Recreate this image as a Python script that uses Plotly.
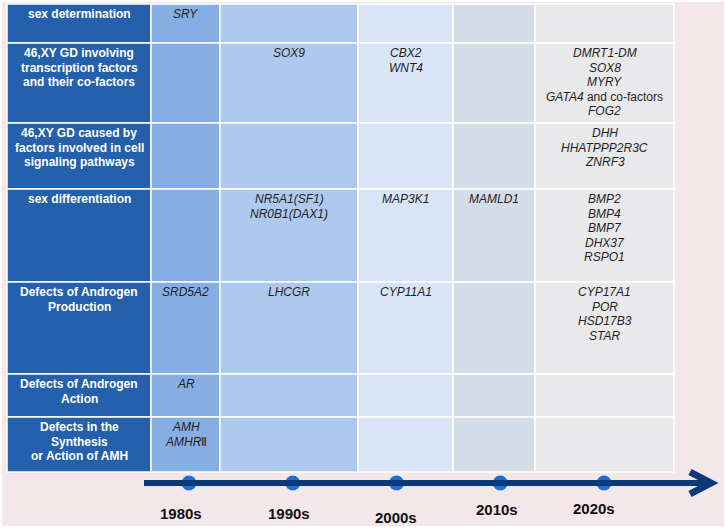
import plotly.graph_objects as go

# chart data
row_labels = [
    ["sex determination"],
    ["46,XY GD involving", "transcription factors", "and their co-factors"],
    ["46,XY GD caused by", "factors involved in cell", "signaling pathways"],
    ["sex differentiation"],
    ["Defects of Androgen", "Production"],
    ["Defects of Androgen", "Action"],
    ["Defects in the", "Synthesis", "or Action of AMH"],
]
decades = ["1980s", "1990s", "2000s", "2010s", "2020s"]
decade_years = [1980, 1990, 2000, 2010, 2020]

# genes[row][decade] -> lines of text
genes = [
    [["SRY"], [], [], [], []],
    [[], ["SOX9"], ["CBX2", "WNT4"], [],
     ["DMRT1-DM", "SOX8", "MYRY", "<i>GATA4</i> and co-factors", "FOG2"]],
    [[], [], [], [], ["DHH", "HHATPPP2R3C", "ZNRF3"]],
    [[], ["NR5A1(SF1)", "NR0B1(DAX1)"], ["MAP3K1"], ["MAMLD1"],
     ["BMP2", "BMP4", "BMP7", "DHX37", "RSPO1"]],
    [["SRD5A2"], ["LHCGR"], ["CYP11A1"], [], ["CYP17A1", "POR", "HSD17B3", "STAR"]],
    [["AR"], [], [], [], []],
    [["AMH", "<i>AMHR</i>Ⅱ"], [], [], [], []],
]

# layout (pixels)
W, H = 726, 531
col_edges = [7, 151, 220, 358, 453, 535, 674]
row_edges = [4, 43, 123, 189, 282, 374, 417, 472]
col_colors = ["#2460AB", "#87AEE3", "#AFC9EE", "#D7E5F6", "#D4DDE7", "#E9E8EA"]
bg_color = "#F4E7EA"
first_line = 10
line_gap = 14.5
font = "Liberation Sans, Arial, sans-serif"

tl_y = 483
tl_x0, tl_x1 = 144, 709
# timeline axis: pixel = 189 + (year - 1980) * 10.375
px_per_year = 10.375
yr0 = 1980 - 189 / px_per_year
yr1 = 1980 + (W - 189) / px_per_year
label_shift = [-8, -4, -1, -3, -10]
label_dy = [30, 30, 34, 26, 25]

fig = go.Figure()

shapes = [dict(type="rect", x0=2, x1=724, y0=2, y1=526, fillcolor=bg_color,
               line=dict(width=0), layer="below")]
annotations = []

for r in range(len(row_labels)):
    y0, y1 = row_edges[r], row_edges[r + 1]
    for c in range(len(col_colors)):
        shapes.append(dict(type="rect", x0=col_edges[c], x1=col_edges[c + 1],
                           y0=y0, y1=y1, fillcolor=col_colors[c],
                           line=dict(color="white", width=1.5), layer="below"))
    xc = (col_edges[0] + col_edges[1]) / 2
    for i, txt in enumerate(row_labels[r]):
        annotations.append(dict(x=xc, y=y0 + first_line + i * line_gap, text=f"<b>{txt}</b>",
                                showarrow=False, xref="x", yref="y",
                                font=dict(family=font, size=12, color="white")))
    for c, lines in enumerate(genes[r]):
        xc = (col_edges[c + 1] + col_edges[c + 2]) / 2
        for i, txt in enumerate(lines):
            t = txt if "<i>" in txt else f"<i>{txt}</i>"
            annotations.append(dict(x=xc, y=y0 + first_line + i * line_gap, text=t,
                                    showarrow=False, xref="x", yref="y",
                                    font=dict(family=font, size=12, color="#1F1F1F")))

# timeline arrow
shapes.append(dict(type="line", x0=tl_x0, x1=tl_x1, y0=tl_y, y1=tl_y,
                   line=dict(color="#0B3A7A", width=6)))
shapes.append(dict(type="path", path=f"M 690,{tl_y - 11} L 711,{tl_y} L 690,{tl_y + 11}",
                   line=dict(color="#0B3A7A", width=7)))

fig.add_trace(go.Scatter(x=decade_years, y=[tl_y] * len(decade_years), xaxis="x2", yaxis="y",
                         mode="markers", marker=dict(size=15, color="#1F6ED2"),
                         hoverinfo="skip", showlegend=False))

for i, d in enumerate(decades):
    annotations.append(dict(x=decade_years[i], y=tl_y + label_dy[i], text=f"<b>{d}</b>",
                            xshift=label_shift[i], showarrow=False, xref="x2", yref="y",
                            font=dict(family=font, size=15, color="#111111")))

fig.update_layout(
    width=W, height=H,
    margin=dict(l=0, r=0, t=0, b=0),
    paper_bgcolor="white", plot_bgcolor="rgba(0,0,0,0)",
    xaxis=dict(range=[0, W], visible=False, fixedrange=True),
    xaxis2=dict(range=[yr0, yr1], overlaying="x", visible=False, fixedrange=True),
    yaxis=dict(range=[H, 0], visible=False, fixedrange=True),
    shapes=shapes, annotations=annotations,
    showlegend=False,
)

fig.write_html("out.html", config={"displayModeBar": False},
               post_script="document.body.style.margin='0';document.body.style.overflow='hidden';")
